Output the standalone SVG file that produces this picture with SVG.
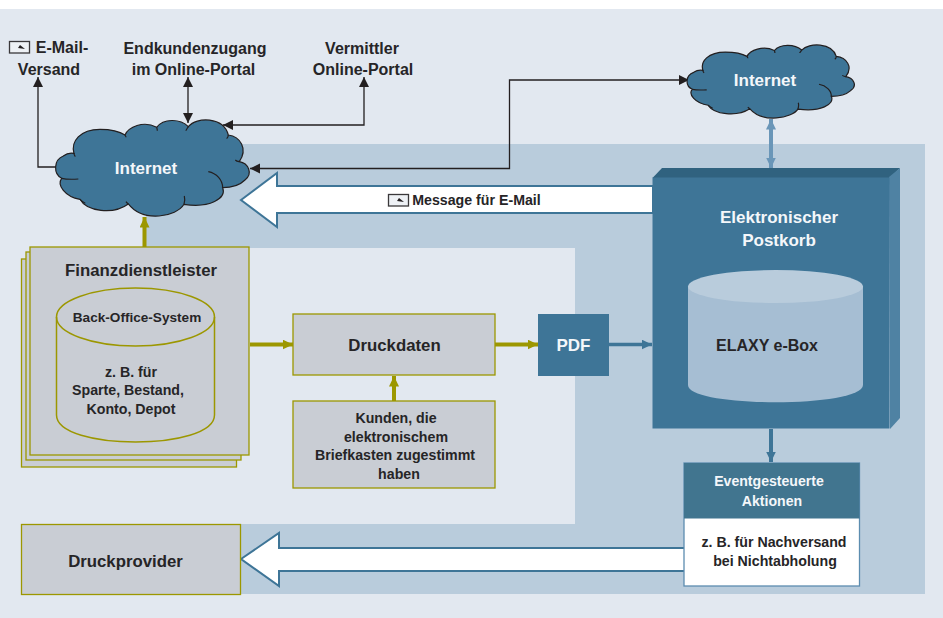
<svg xmlns="http://www.w3.org/2000/svg" width="943" height="618" viewBox="0 0 943 618">
<defs>
<marker id="ak" markerUnits="userSpaceOnUse" markerWidth="11" markerHeight="11" refX="10" refY="5.500" orient="auto-start-reverse"><path d="M0,0.500 L10,5.500 L0,10.500 Z" fill="#231f20"/></marker>
<marker id="ao" markerUnits="userSpaceOnUse" markerWidth="11" markerHeight="10" refX="10.500" refY="5" orient="auto"><path d="M0,0 L10.500,5 L0,10 Z" fill="#9c9700"/></marker>
<marker id="ab" markerUnits="userSpaceOnUse" markerWidth="11" markerHeight="10" refX="10.500" refY="5" orient="auto-start-reverse"><path d="M0,0 L10.500,5 L0,10 Z" fill="#3e7597"/></marker>
<marker id="al" markerUnits="userSpaceOnUse" markerWidth="11" markerHeight="10" refX="10.500" refY="5" orient="auto-start-reverse"><path d="M0,0 L10.500,5 L0,10 Z" fill="#6a96b8"/></marker>
<g id="cloud">
<path vector-effect="non-scaling-stroke" d="M222,400 C212,365 240,328 300,328 C335,328 360,335 375,345 C385,322 430,300 470,322 C490,295 540,295 565,320 C590,290 670,290 685,345 C720,350 745,385 718,425 C745,430 760,460 735,480 C720,495 695,503 668,503 C680,535 630,565 552,553 C530,590 430,610 385,552 C340,585 260,575 240,538 C195,530 170,495 185,475 C160,462 160,420 190,408 C200,400 212,398 222,400 Z" fill="#3e7597" stroke="#231f20" stroke-width="1.200"/>
<path vector-effect="non-scaling-stroke" d="M222,400 C222,405 224,408 226,410 M375,345 C378,350 378,352 378,352 M470,322 C472,328 472,332 472,332 M565,320 C562,325 558,330 558,332 M685,345 C685,350 682,354 680,356 M718,425 C712,424 708,422 706,420 M668,503 C668,480 650,460 625,455 M552,553 C554,545 555,535 553,528 M385,552 C380,548 378,545 378,545 M240,538 C246,544 252,548 256,550 M185,475 C198,478 220,478 235,477" fill="none" stroke="#231f20" stroke-width="1.200"/>
</g>
<g id="env"><rect x="0.500" y="0.500" width="20" height="11.500" fill="#eef1f5" stroke="#3a383a" stroke-width="1.300"/><path d="M11,4 L16,8 L9,7 Z" fill="#231f20"/></g>
</defs>
<style>
text{font-family:"Liberation Sans",Arial,sans-serif;font-weight:700;text-anchor:middle}
.d{fill:#262527;font-size:16px}
.t{fill:#262527;font-size:16.800px}
.m{fill:#262527;font-size:14.200px}
.w{fill:#f4f7fa;font-size:17px}
.e{fill:#f4f7fa;font-size:14.100px}
.gy{fill:#c9cdd4;stroke:#9c9700;stroke-width:1.300}
.k{fill:none;stroke:#231f20;stroke-width:1.300}
.o{fill:none;stroke:#9c9700;stroke-width:4}
.ar{fill:#fff;stroke:#3e7597;stroke-width:2}
</style>
<rect width="943" height="618" fill="#fff"/>
<rect x="0" y="9" width="943" height="609" fill="#e2e8f0"/>
<rect x="146" y="144" width="779" height="450" fill="#b9ccdc"/>
<rect x="22" y="248" width="553" height="276" fill="#e2e8f0"/>
<g id="connectors">
<path class="k" d="M58,167 H38 V77" marker-end="url(#ak)"/>
<path class="k" d="M188,77 V123" marker-start="url(#ak)" marker-end="url(#ak)"/>
<path class="k" d="M364,77 V125 H223" marker-start="url(#ak)" marker-end="url(#ak)"/>
<path class="k" d="M250,168.500 H509.500 V80 H689" marker-start="url(#ak)" marker-end="url(#ak)"/>
<path class="o" d="M144.500,248 V217" marker-end="url(#ao)"/>
<path class="o" d="M250,344.500 H293" marker-end="url(#ao)"/>
<path class="o" d="M495,344.500 H538" marker-end="url(#ao)"/>
<path class="o" d="M394,401 V376" marker-end="url(#ao)"/>
<path d="M609,344.500 H652" fill="none" stroke="#3e7597" stroke-width="3.500" marker-end="url(#ab)"/>
<path d="M771,429 V462" fill="none" stroke="#3e7597" stroke-width="4" marker-end="url(#ab)"/>
<path d="M771,119 V168" fill="none" stroke="#6a96b8" stroke-width="4" marker-start="url(#al)" marker-end="url(#al)"/>
<path class="ar" d="M241,200 L277,173 V186 H653 V213 H277 V227 Z"/>
<path class="ar" d="M241,559 L279,533 V548 H685 V571 H279 V586 Z"/>
</g>
<g id="mail-label"><use href="#env" x="388" y="194"/><text class="m" x="476.500" y="205">Message für E-Mail</text></g>
<g id="email"><use href="#env" x="9" y="41"/><text class="d" x="62" y="53">E-Mail-</text><text class="d" x="49" y="75">Versand</text></g>
<g id="endkunden"><text class="d" x="195" y="54">Endkundenzugang</text><text class="d" x="193.500" y="75">im Online-Portal</text></g>
<g id="vermittler"><text class="d" x="362" y="54">Vermittler</text><text class="d" x="363" y="75">Online-Portal</text></g>
<g id="internet-1"><use href="#cloud" transform="translate(0,20) scale(0.3333)"/><text class="w" x="146" y="174">Internet</text></g>
<g id="internet-2"><use href="#cloud" transform="translate(639,-31) scale(0.288,0.2533)"/><text class="w" x="765" y="86">Internet</text></g>
<g id="postkorb">
<path d="M652.500,178 L662,168 H900 L890,178 Z" fill="#30627f"/>
<path d="M889,177 L900,168 V418 L890,429 Z" fill="#4f82a3"/>
<rect x="652.500" y="177.500" width="237" height="251" fill="#3e7597"/>
<text class="w" x="779" y="223">Elektronischer</text><text class="w" x="779" y="246">Postkorb</text>
<path d="M688,286.500 V385 C688,408 863,408 863,385 V286.500 Z" fill="#a6bed3"/>
<ellipse cx="775.500" cy="286.500" rx="87.500" ry="16.500" fill="#b9ccdc"/>
<text x="767" y="351" fill="#262527" font-size="16">ELAXY e-Box</text>
</g>
<g id="finanz">
<rect class="gy" x="21.500" y="259" width="215" height="208"/>
<rect class="gy" x="26" y="252" width="215" height="208"/>
<rect class="gy" x="30" y="247" width="219" height="208"/>
<text class="t" x="141" y="276">Finanzdienstleister</text>
<path d="M56.500,317 V415 C56.500,451 214.500,451 214.500,415 V317" fill="none" stroke="#9c9700" stroke-width="1.500"/>
<ellipse cx="135.500" cy="317" rx="79" ry="29" fill="none" stroke="#9c9700" stroke-width="1.500"/>
<text x="137" y="322" fill="#262527" font-size="13.600">Back-Office-System</text>
<text class="m" x="131" y="377">z. B. für</text><text class="m" x="128" y="395">Sparte, Bestand,</text><text class="m" x="131" y="414">Konto, Depot</text>
</g>
<g id="druckdaten"><rect class="gy" x="293" y="314" width="202" height="61"/><text class="t" x="394.500" y="351">Druckdaten</text></g>
<g id="kunden"><rect class="gy" x="293" y="401" width="202" height="87"/>
<text class="m" x="396" y="423">Kunden, die</text><text class="m" x="396" y="442">elektronischem</text><text class="m" x="395" y="460">Briefkasten zugestimmt</text><text class="m" x="399" y="479">haben</text></g>
<g id="pdf"><rect x="538" y="314" width="71" height="62" fill="#3e7597"/><text x="573.500" y="351" fill="#f4f7fa" font-size="17">PDF</text></g>
<g id="aktionen"><rect x="684" y="463" width="175.500" height="123" fill="#fff" stroke="#5c8db0" stroke-width="1.300"/><rect x="684" y="463" width="175.500" height="55.500" fill="#41758f"/>
<text class="e" x="769" y="486">Eventgesteuerte</text><text class="e" x="772" y="506">Aktionen</text>
<text class="m" x="774" y="547">z. B. für Nachversand</text><text class="m" x="775" y="566">bei Nichtabholung</text></g>
<g id="druckprovider"><rect class="gy" x="21.500" y="524.500" width="219" height="70"/><text class="t" x="125.500" y="567">Druckprovider</text></g>
</svg>
